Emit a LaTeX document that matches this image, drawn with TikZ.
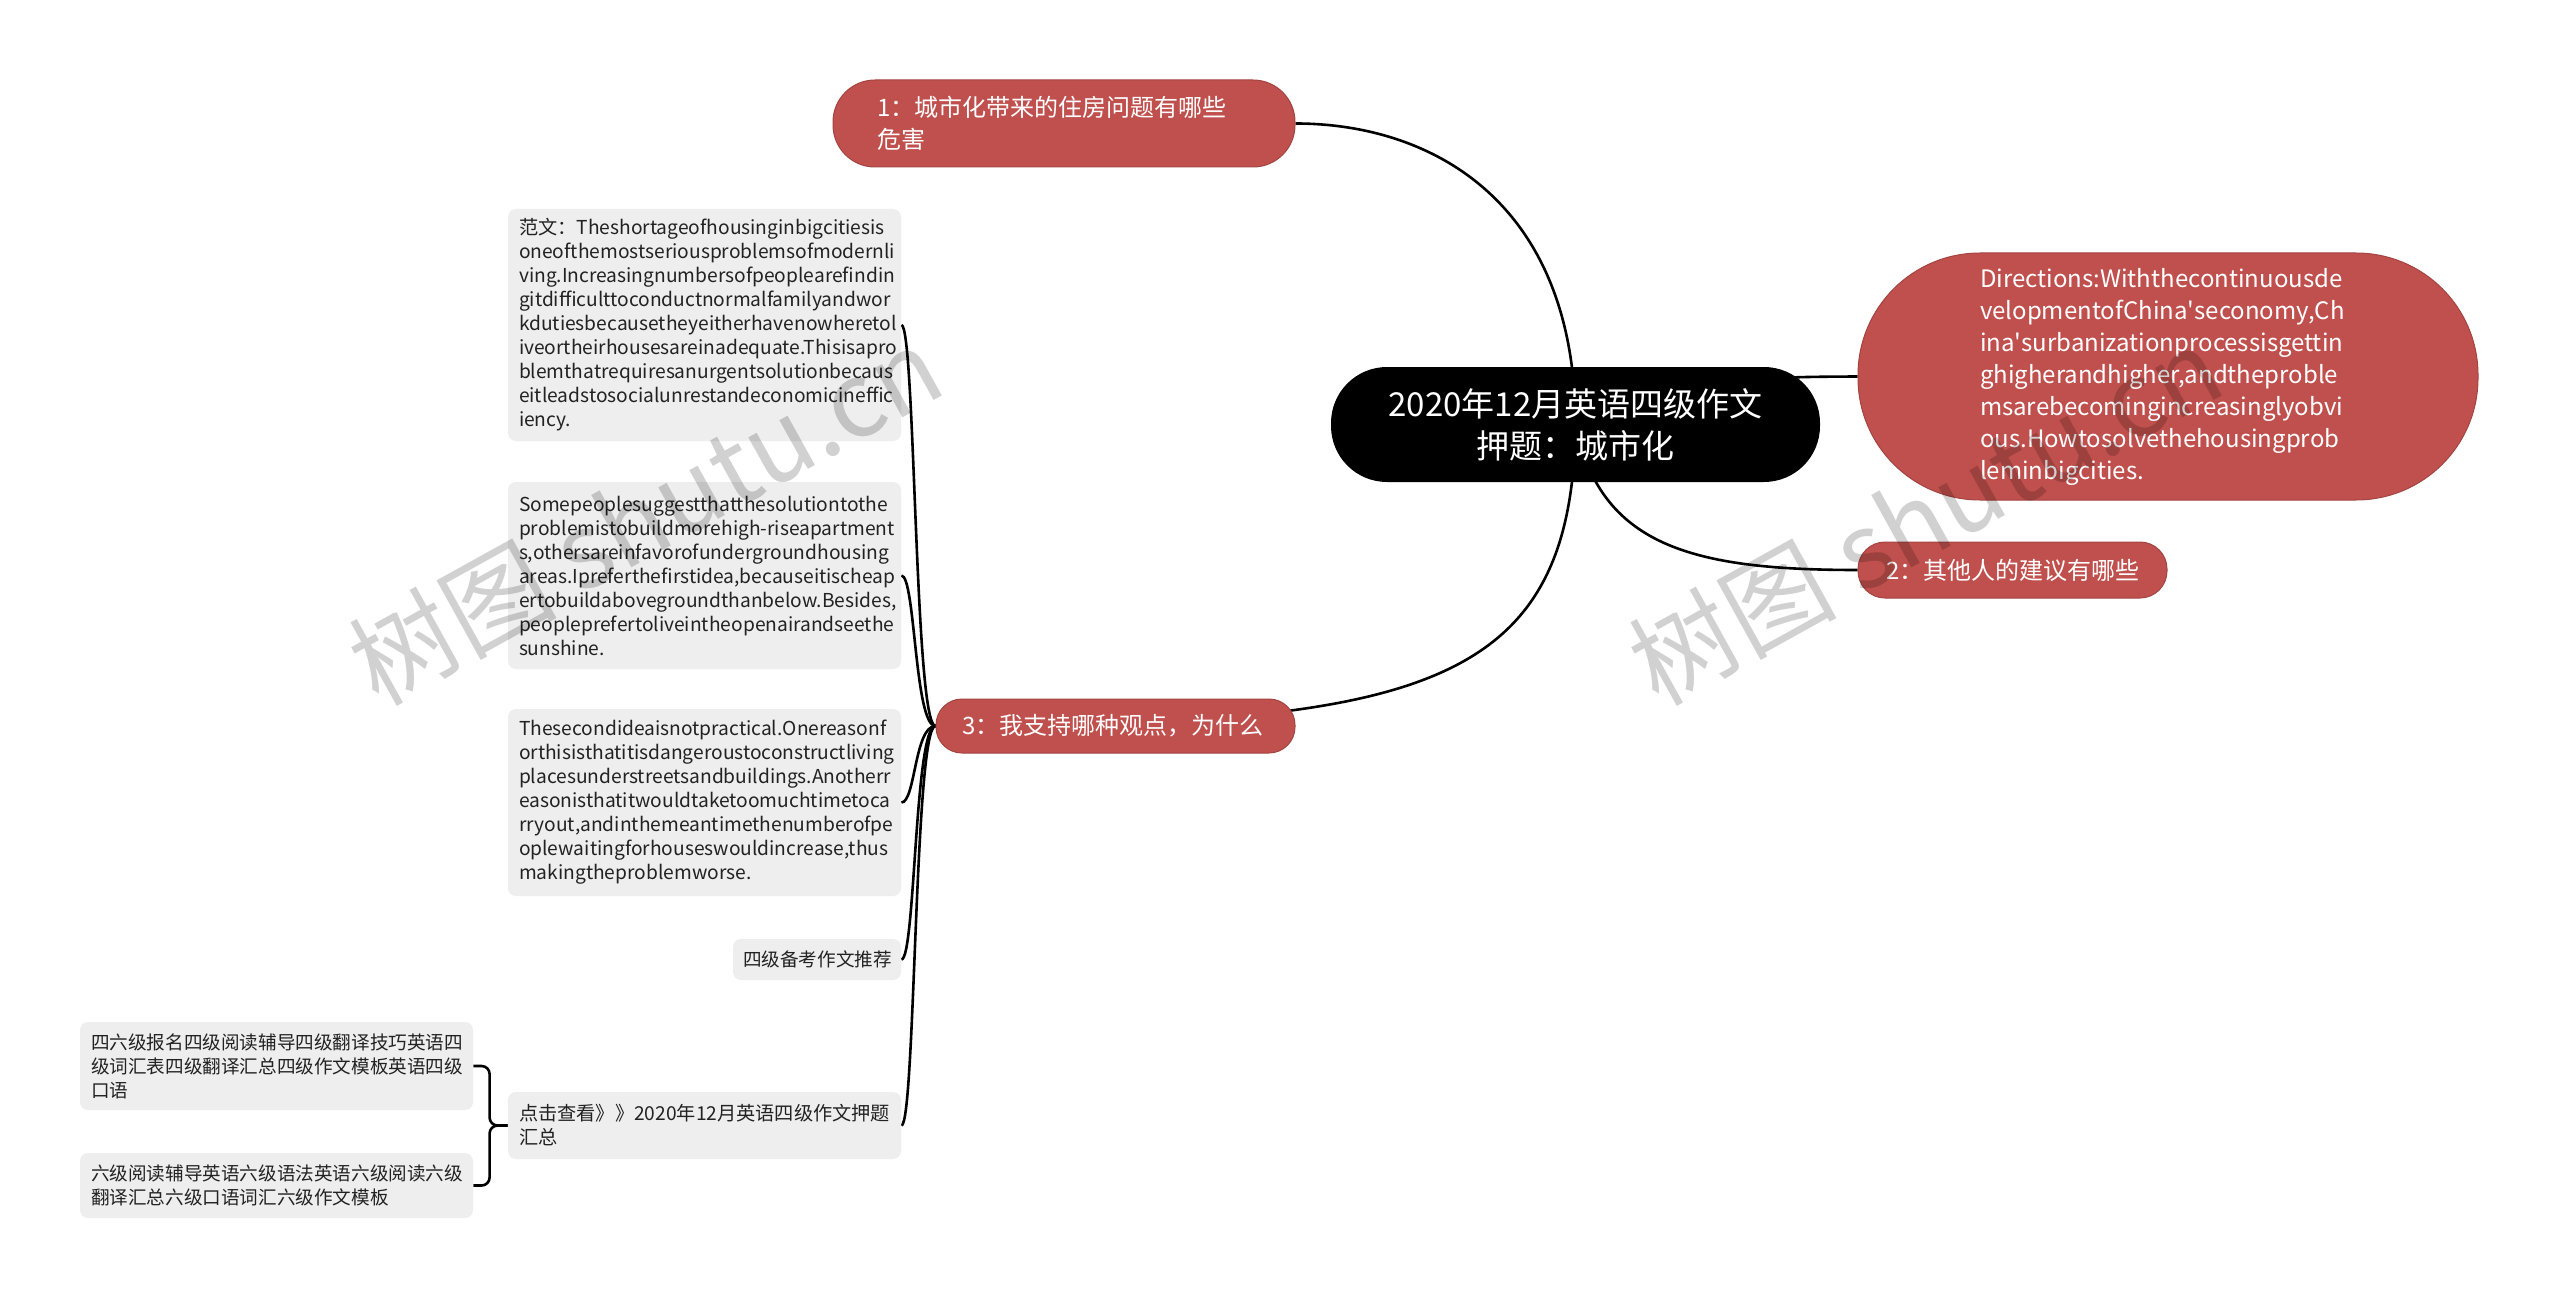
\documentclass[tikz,border=0pt]{standalone}
\usepackage{fontspec}
\setmainfont{Noto Sans CJK SC}
\usetikzlibrary{backgrounds}
\definecolor{brick}{HTML}{C0504D}
\definecolor{pale}{HTML}{EEEEEE}
\definecolor{ink}{HTML}{222222}

\begin{document}
\begin{tikzpicture}[x=0.5pt, y=-0.5pt,
    every node/.style={inner ysep=0pt},
    rootbox/.style={fill=black, text=white, rounded corners=28pt, minimum width=244.5pt, minimum height=57.5pt, align=center, font=\fontsize{16.5pt}{21pt}\selectfont},
    topic/.style={fill=brick, draw=brick!85!black, line width=0.5pt, text=white, align=left, font=\fontsize{12pt}{16pt}\selectfont},
    leaf/.style={fill=pale, text=ink, rounded corners=4pt, align=left, inner xsep=5.5pt, text width=185.5pt, font=\fontsize{9.6pt}{12pt}\selectfont},
    cjkleaf/.style={leaf, font=\fontsize{9.3pt}{12pt}\selectfont},
    link/.style={line width=1.3pt},
    wmark/.style={text=black, text opacity=0.18, rotate=29, font=\fontsize{52pt}{52pt}\selectfont}
]
\useasboundingbox (0,0) rectangle (2560,1300);
\node[rootbox] (root) at (1575.5, 424.5) {2020年12月英语四级作文\\押题：城市化};
\node[topic, rounded corners=21pt, inner xsep=22pt, text width=187pt, minimum height=43.5pt] (t1) at (1064, 123.5) {1：城市化带来的住房问题有哪些\\危害};
\node[topic, rounded corners=61pt, inner xsep=61pt, text width=188pt, minimum height=123.5pt] (dir) at (2168, 376.5) {Directions:Withthecontinuousde\\velopmentofChina\textquotesingle seconomy,Ch\\ina\textquotesingle surbanizationprocessisgettin\\ghigherandhigher,andtheproble\\msarebecomingincreasinglyobvi\\ous.Howtosolvethehousingprob\\leminbigcities.};
\node[topic, rounded corners=13.5pt, inner xsep=14pt, text width=126.5pt, minimum height=28pt] (t2) at (2012.5, 570) {2：其他人的建议有哪些};
\node[topic, rounded corners=13pt, inner xsep=13pt, text width=153.5pt, minimum height=27pt] (t3) at (1115.5, 726) {3：我支持哪种观点，为什么};
\node[leaf, minimum height=116pt] (g1) at (704.5, 325) {范文：Theshortageofhousinginbigcitiesis\\oneofthemostseriousproblemsofmodernli\\ving.Increasingnumbersofpeoplearefindin\\gitdifficulttoconductnormalfamilyandwor\\kdutiesbecausetheyeitherhavenowheretol\\iveortheirhousesareinadequate.Thisisapro\\blemthatrequiresanurgentsolutionbecaus\\eitleadstosocialunrestandeconomicineffic\\iency.};
\node[leaf, minimum height=93.5pt] (g2) at (704.5, 575.5) {Somepeoplesuggestthatthesolutiontothe\\\mbox{problemistobuildmorehigh-riseapartment}\\s,othersareinfavorofundergroundhousing\\areas.Ipreferthefirstidea,becauseitischeap\\ertobuildabovegroundthanbelow.Besides,\\peopleprefertoliveintheopenairandseethe\\sunshine.};
\node[leaf, minimum height=93.5pt] (g3) at (704.5, 802.5) {Thesecondideaisnotpractical.Onereasonf\\orthisisthatitisdangeroustoconstructliving\\placesunderstreetsandbuildings.Anotherr\\easonisthatitwouldtaketoomuchtimetoca\\rryout,andinthemeantimethenumberofpe\\oplewaitingforhouseswouldincrease,thus\\makingtheproblemworse.};
\node[cjkleaf, text width=74pt, inner xsep=5pt, minimum height=20.5pt] (g4) at (817, 959.5) {四级备考作文推荐};
\node[leaf, minimum height=33.5pt] (g5) at (704.5, 1125.5) {点击查看》》2020年12月英语四级作文押题\\汇总};
\node[cjkleaf, minimum height=44pt] (g6) at (276.5, 1066) {四六级报名四级阅读辅导四级翻译技巧英语四\\级词汇表四级翻译汇总四级作文模板英语四级\\口语};
\node[cjkleaf, minimum height=32.5pt] (g7) at (276.5, 1185.5) {六级阅读辅导英语六级语法英语六级阅读六级\\翻译汇总六级口语词汇六级作文模板};
\begin{scope}[on background layer]
\fill[white] (0,0) rectangle (2560,1300);
\draw[link] (root.center) .. controls (1575,200) and (1430,123.5) .. (t1.east);
\draw[link] (root.center) .. controls (1700,377) and (1760,377) .. (dir.west);
\draw[link] (root.center) .. controls (1600,545) and (1690,570) .. (t2.west);
\draw[link] (root.center) .. controls (1572,690) and (1420,726) .. (t3.west);
\foreach \g in {g1,g2,g3,g4,g5}
  \draw[link] (t3.west) .. controls +(-10.5pt,0) and +(7pt,0) .. (\g.east);
\draw[link, rounded corners=4pt] (g5.west) -- ++(-9pt,0) |- (g6.east);
\draw[link, rounded corners=4pt] (g5.west) -- ++(-9pt,0) |- (g7.east);
\end{scope}
\node[wmark] (w1) at (645, 515) {树图 shutu.cn};
\node[wmark] (w2) at (1925, 515) {树图 shutu.cn};
\end{tikzpicture}
\end{document}
